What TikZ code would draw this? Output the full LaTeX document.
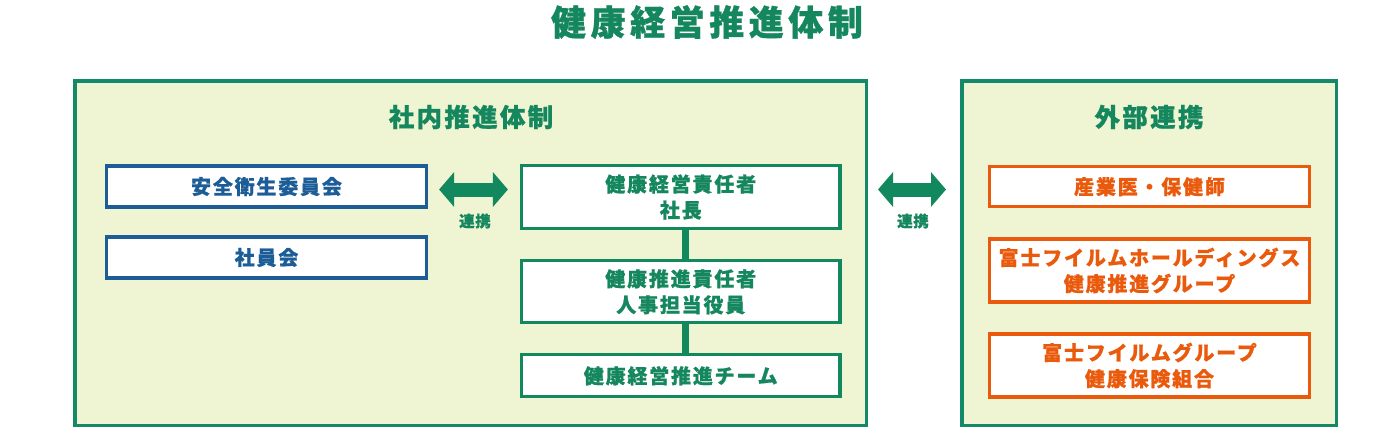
\documentclass[tikz,border=0pt]{standalone}
\usepackage{fontspec}
\setmainfont{Noto Sans CJK JP}
\usetikzlibrary{arrows.meta}
\definecolor{grn}{HTML}{12885F}
\definecolor{grntext}{HTML}{15875E}
\definecolor{frame}{HTML}{14896A}
\definecolor{bg}{HTML}{EFF4D3}
\definecolor{blu}{HTML}{1C5D98}
\definecolor{org}{HTML}{EA5A0C}
\begin{document}
\begin{tikzpicture}[x=1pt,y=-1pt,
  outerframe/.style={draw=frame, line width=3.5pt, fill=bg, inner sep=0pt},
  boxtext/.style={font=\bfseries\fontsize{20}{26}\selectfont\addfontfeature{LetterSpace=9,FakeBold=0.8}, align=center},
  bluebox/.style={draw=blu, line width=3.2pt, fill=white, minimum width=320pt, minimum height=41pt, inner sep=0pt, text=blu, boxtext},
  grnbox/.style={draw=grn, line width=3.2pt, fill=white, minimum width=318.5pt, inner sep=0pt, text=grntext, boxtext},
  orgbox/.style={draw=org, line width=3.2pt, fill=white, minimum width=320pt, inner sep=0pt, text=org, boxtext},
  sectitle/.style={text=grntext, font=\bfseries\fontsize{25.5}{30}\selectfont\addfontfeature{LetterSpace=9,FakeBold=0.8}},
  linklabel/.style={text=grntext, font=\bfseries\fontsize{15.5}{18}\selectfont\addfontfeature{LetterSpace=4,FakeBold=0.8}},
  bigarrow/.style={draw=grn, line width=14pt, {Triangle[width=34pt,length=15pt]}-{Triangle[width=34pt,length=15pt]}},
  vline/.style={draw=grn, line width=7pt}
]
\useasboundingbox (0,0) rectangle (1400,428);
\fill[white] (0,0) rectangle (1400,428);

\node[text=grntext, font=\bfseries\fontsize{35}{40}\selectfont\addfontfeature{LetterSpace=13,FakeBold=0.8}] (title) at (707,22) {健康経営推進体制};

\node[outerframe, minimum width=791.5pt, minimum height=344.5pt] (L) at (470.5,253) {};
\node[outerframe, minimum width=374.5pt, minimum height=344.5pt] (R) at (1149,253) {};

\node[sectitle] (Lt) at (471,117) {社内推進体制};
\node[sectitle] (Rt) at (1149,117) {外部連携};

\node[bluebox] (b1) at (266.5,186.5) {安全衛生委員会};
\node[bluebox] (b2) at (266.5,257.5) {社員会};

\node[grnbox, minimum height=63pt] (g1) at (680.75,197) {健康経営責任者\\社長};
\node[grnbox, minimum height=62pt] (g2) at (680.75,291.8) {健康推進責任者\\人事担当役員};
\node[grnbox, minimum height=42pt] (g3) at (680.75,375.8) {健康経営推進チーム};

\node[orgbox, minimum height=40pt] (o1) at (1149.5,186.7) {産業医・保健師};
\node[orgbox, minimum height=63pt] (o2) at (1149.5,270.5) {富士フイルムホールディングス\\健康推進グループ};
\node[orgbox, minimum height=63pt] (o3) at (1149.5,365.5) {富士フイルムグループ\\健康保険組合};

\draw[vline] ([xshift=5pt]g1.south) -- ([xshift=5pt]g1.south |- g2.north);
\draw[vline] ([xshift=5pt]g2.south) -- ([xshift=5pt]g2.south |- g3.north);

\draw[bigarrow, shorten <=11pt, shorten >=12pt] ([yshift=-3pt]b1.east) -- ([yshift=-3pt]b1.east -| g1.west);
\draw[bigarrow, shorten <=10pt, shorten >=14pt] ([yshift=-3pt]b1.east -| L.east) -- ([yshift=-3pt]b1.east -| R.west);

\node[linklabel] (l1) at (475,221) {連携};
\node[linklabel] (l2) at (913,221) {連携};
\end{tikzpicture}
\end{document}
